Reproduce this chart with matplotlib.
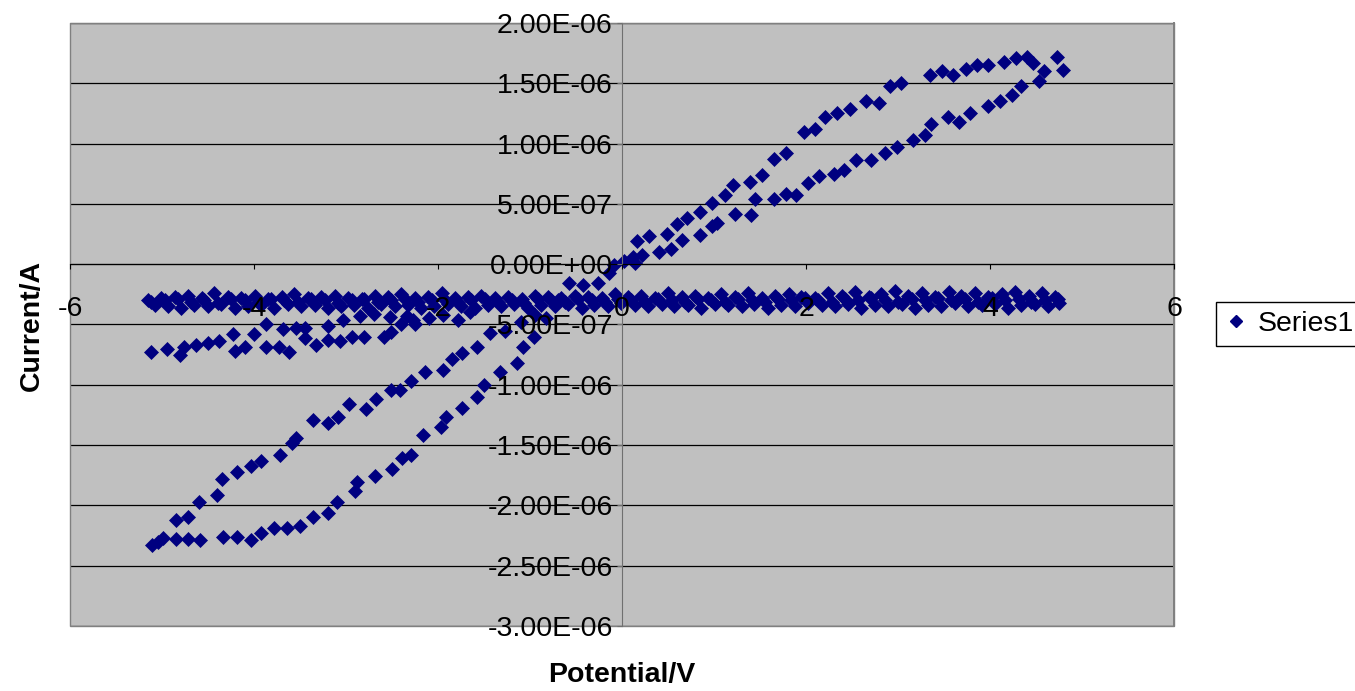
import numpy as np
import matplotlib
matplotlib.use("Agg")
import matplotlib.pyplot as plt
from matplotlib.ticker import FuncFormatter
from matplotlib.lines import Line2D
from matplotlib.patches import Rectangle

plt.rcParams['font.family'] = ['Liberation Sans', 'DejaVu Sans']

# current values are in microamps, potential in volts

# flat band, first pass (upper row)
band_up_v = [-5.15, -5.01, -4.86, -4.72, -4.57, -4.43, -4.28, -4.14, -3.99, -3.85,
             -3.70, -3.56, -3.41, -3.27, -3.12, -2.98, -2.83, -2.69, -2.54, -2.40,
             -2.25, -2.11, -1.96, -1.82, -1.67, -1.53, -1.38, -1.24, -1.09, -0.95,
             -0.80, -0.66, -0.51, -0.37, -0.22, -0.08, 0.07, 0.21, 0.36, 0.50,
             0.65, 0.79, 0.94, 1.08, 1.23, 1.37, 1.52, 1.66, 1.81, 1.95,
             2.10, 2.24, 2.39, 2.53, 2.68, 2.82, 2.97, 3.11, 3.26, 3.40,
             3.55, 3.69, 3.84, 3.98, 4.13, 4.27, 4.42, 4.56, 4.71]
band_up_i = [-0.30, -0.28, -0.27, -0.26, -0.28, -0.24, -0.27, -0.28, -0.26, -0.29,
             -0.27, -0.25, -0.28, -0.27, -0.26, -0.28, -0.29, -0.26, -0.27, -0.25,
             -0.28, -0.27, -0.24, -0.28, -0.27, -0.26, -0.28, -0.27, -0.29, -0.26,
             -0.27, -0.28, -0.26, -0.27, -0.28, -0.25, -0.27, -0.26, -0.28, -0.24,
             -0.27, -0.26, -0.28, -0.25, -0.27, -0.24, -0.28, -0.26, -0.25, -0.27,
             -0.28, -0.24, -0.26, -0.23, -0.27, -0.25, -0.22, -0.26, -0.24, -0.27,
             -0.23, -0.26, -0.24, -0.27, -0.25, -0.23, -0.26, -0.24, -0.27]

# flat band, middle pass
band_mid_v = [-5.12, -4.97, -4.83, -4.68, -4.54, -4.39, -4.25, -4.10, -3.96, -3.81,
              -3.67, -3.52, -3.38, -3.23, -3.09, -2.94, -2.80, -2.65, -2.51, -2.36,
              -2.22, -2.07, -1.93, -1.78, -1.64, -1.49, -1.35, -1.20, -1.06, -0.91,
              -0.77, -0.62, -0.48, -0.33, -0.19, -0.04, 0.10, 0.25, 0.39, 0.54,
              0.68, 0.83, 0.97, 1.12, 1.26, 1.41, 1.55, 1.70, 1.84, 1.99,
              2.13, 2.28, 2.42, 2.57, 2.71, 2.86, 3.00, 3.15, 3.29, 3.44,
              3.58, 3.73, 3.87, 4.02, 4.16, 4.31, 4.45, 4.60, 4.74]
band_mid_i = [-0.31, -0.30, -0.29, -0.31, -0.30, -0.32, -0.29, -0.30, -0.31, -0.29,
              -0.30, -0.31, -0.29, -0.30, -0.32, -0.30, -0.29, -0.31, -0.30, -0.29,
              -0.31, -0.30, -0.29, -0.31, -0.30, -0.29, -0.31, -0.30, -0.32, -0.29,
              -0.30, -0.31, -0.29, -0.30, -0.31, -0.29, -0.30, -0.31, -0.29, -0.30,
              -0.31, -0.29, -0.30, -0.31, -0.29, -0.30, -0.31, -0.29, -0.30, -0.28,
              -0.30, -0.31, -0.29, -0.30, -0.28, -0.30, -0.31, -0.29, -0.30, -0.28,
              -0.30, -0.29, -0.31, -0.28, -0.30, -0.29, -0.31, -0.30, -0.29]

# flat band, second pass (lower row)
band_dn_v = [4.75, 4.63, 4.49, 4.34, 4.20, 4.05, 3.91, 3.76, 3.62, 3.47,
             3.33, 3.18, 3.04, 2.89, 2.75, 2.60, 2.46, 2.31, 2.17, 2.02,
             1.88, 1.73, 1.59, 1.44, 1.30, 1.15, 1.01, 0.86, 0.72, 0.57,
             0.43, 0.28, 0.14, -0.01, -0.15, -0.30, -0.44, -0.59, -0.73, -0.88,
             -1.02, -1.17, -1.31, -1.46, -1.60, -1.75, -1.89, -2.04, -2.18, -2.33,
             -2.47, -2.62, -2.76, -2.91, -3.05, -3.20, -3.34, -3.49, -3.63, -3.78,
             -3.92, -4.07, -4.21, -4.36, -4.50, -4.65, -4.79, -4.94, -5.08]
band_dn_i = [-0.32, -0.35, -0.33, -0.34, -0.36, -0.33, -0.34, -0.35, -0.32, -0.35,
             -0.34, -0.36, -0.33, -0.35, -0.34, -0.36, -0.33, -0.35, -0.34, -0.32,
             -0.35, -0.34, -0.36, -0.33, -0.35, -0.34, -0.33, -0.36, -0.34, -0.35,
             -0.33, -0.35, -0.34, -0.32, -0.35, -0.34, -0.36, -0.33, -0.35, -0.34,
             -0.36, -0.33, -0.35, -0.34, -0.36, -0.35, -0.33, -0.35, -0.36, -0.34,
             -0.35, -0.33, -0.36, -0.34, -0.35, -0.36, -0.34, -0.35, -0.33, -0.36,
             -0.34, -0.35, -0.36, -0.33, -0.35, -0.34, -0.36, -0.35, -0.34]

# small loop under the band on the negative side
small_loop = [(-5.12, -0.73), (-4.95, -0.70), (-4.80, -0.75), (-4.76, -0.69), (-4.63, -0.67),
              (-4.50, -0.65), (-4.38, -0.64), (-4.23, -0.58), (-4.21, -0.72), (-4.10, -0.69),
              (-4.00, -0.58), (-3.87, -0.50), (-3.87, -0.69), (-3.73, -0.69), (-3.62, -0.73),
              (-3.68, -0.54), (-3.54, -0.53), (-3.45, -0.53), (-3.45, -0.61), (-3.33, -0.67),
              (-3.20, -0.63), (-3.20, -0.51), (-3.07, -0.64), (-2.93, -0.60), (-2.80, -0.60),
              (-2.59, -0.60), (-2.51, -0.56), (-2.40, -0.50), (-2.25, -0.50), (-2.34, -0.43),
              (-2.52, -0.44), (-2.27, -0.46), (-2.10, -0.45), (-1.95, -0.42), (-1.78, -0.46),
              (-1.65, -0.40), (-3.03, -0.46), (-2.85, -0.43), (-2.70, -0.41)]

# big hysteresis loop, positive side
right_up = [(0.02, 0.03), (0.12, 0.06), (0.16, 0.19), (0.29, 0.23), (0.49, 0.25),
            (0.60, 0.33), (0.71, 0.38), (0.85, 0.43), (0.98, 0.51), (1.12, 0.57),
            (1.21, 0.66), (1.39, 0.68), (1.52, 0.74), (1.65, 0.87), (1.78, 0.92),
            (1.98, 1.10), (2.10, 1.12), (2.21, 1.22), (2.34, 1.25), (2.48, 1.29),
            (2.65, 1.35), (2.79, 1.34), (2.91, 1.48), (3.03, 1.50), (3.35, 1.57),
            (3.48, 1.60), (3.60, 1.57), (3.74, 1.62), (3.86, 1.65), (3.98, 1.65),
            (4.15, 1.68), (4.28, 1.71), (4.40, 1.72), (4.47, 1.67), (4.73, 1.72),
            (4.79, 1.61)]
right_dn = [(4.59, 1.60), (4.53, 1.52), (4.34, 1.48), (4.24, 1.40), (4.11, 1.35),
            (3.98, 1.31), (3.78, 1.25), (3.66, 1.18), (3.54, 1.22), (3.36, 1.16),
            (3.29, 1.07), (3.16, 1.03), (2.99, 0.97), (2.86, 0.92), (2.71, 0.86),
            (2.54, 0.86), (2.41, 0.78), (2.30, 0.75), (2.14, 0.73), (2.02, 0.67),
            (1.89, 0.57), (1.78, 0.58), (1.65, 0.54), (1.45, 0.54), (1.40, 0.41),
            (1.23, 0.42), (1.03, 0.34), (0.98, 0.32), (0.85, 0.24), (0.65, 0.20),
            (0.53, 0.13), (0.40, 0.10), (0.22, 0.08), (0.14, 0.01), (-0.09, -0.01),
            (-0.14, -0.07)]

# big hysteresis loop, negative side
left_dn = [(-0.26, -0.16), (-0.42, -0.17), (-0.58, -0.16), (-0.70, -0.30), (-0.83, -0.45),
           (-0.96, -0.60), (-1.08, -0.69), (-1.14, -0.82), (-1.33, -0.89), (-1.50, -1.00),
           (-1.58, -1.10), (-1.74, -1.19), (-1.91, -1.27), (-1.97, -1.35), (-2.16, -1.42),
           (-2.29, -1.58), (-2.39, -1.61), (-2.50, -1.70), (-2.68, -1.76), (-2.88, -1.81),
           (-2.90, -1.88), (-3.10, -1.97), (-3.20, -2.06), (-3.36, -2.10), (-3.50, -2.17),
           (-3.64, -2.19), (-3.78, -2.19), (-3.92, -2.23), (-4.03, -2.29), (-4.18, -2.26),
           (-4.34, -2.26), (-4.59, -2.29), (-4.72, -2.28), (-4.85, -2.28), (-4.99, -2.27),
           (-5.04, -2.30), (-5.11, -2.33)]
left_up = [(-4.85, -2.12), (-4.72, -2.10), (-4.60, -1.97), (-4.40, -1.91), (-4.35, -1.78),
           (-4.18, -1.72), (-4.03, -1.67), (-3.92, -1.63), (-3.72, -1.58), (-3.59, -1.48),
           (-3.54, -1.44), (-3.36, -1.29), (-3.20, -1.32), (-3.09, -1.27), (-2.97, -1.16),
           (-2.78, -1.20), (-2.67, -1.12), (-2.51, -1.04), (-2.41, -1.04), (-2.29, -0.97),
           (-2.14, -0.89), (-1.95, -0.88), (-1.85, -0.79), (-1.74, -0.74), (-1.58, -0.69),
           (-1.44, -0.57), (-1.27, -0.55), (-1.10, -0.48), (-0.95, -0.42)]

x_ticks = [-6, -4, -2, 0, 2, 4, 6]
y_ticks = [-3.0e-6, -2.5e-6, -2.0e-6, -1.5e-6, -1.0e-6, -5.0e-7, 0.0, 5.0e-7, 1.0e-6, 1.5e-6, 2.0e-6]

NAVY = '#000080'


def main():
  W, H = 1355, 691
  fig = plt.figure(figsize=(W / 100, H / 100), dpi=100)
  ax = fig.add_axes([70 / W, 1 - 626 / H, 1104 / W, 603 / H])
  ax.set_facecolor('#c0c0c0')

  # collect every point of the single series
  v = list(band_up_v) + list(band_mid_v) + list(band_dn_v)
  i = list(band_up_i) + list(band_mid_i) + list(band_dn_i)
  for part in [small_loop, right_up, right_dn, left_dn, left_up]:
    pv, pi = zip(*part)
    v += list(pv)
    i += list(pi)
  v = np.array(v)
  i = np.array(i) * 1e-6

  for yv in y_ticks:
    ax.axhline(yv, color='black', lw=0.9, zorder=1)

  ax.plot(v, i, ls='none', marker='D', ms=7.3, mfc=NAVY, mec=NAVY, mew=0.5, zorder=2)

  ax.set_xlim(-6, 6)
  ax.set_ylim(-3e-6, 2e-6)
  ax.set_axisbelow(False)

  ax.spines['left'].set_position(('data', 0))
  ax.spines['bottom'].set_position(('data', 0))
  ax.spines['left'].set_color('#707070')
  ax.spines['bottom'].set_color('black')
  ax.spines['top'].set_color('#808080')
  ax.spines['right'].set_color('#808080')
  ax.spines['right'].set_linewidth(1.4)
  ax.add_patch(Rectangle((0, 0), 1, 1, transform=ax.transAxes, fill=False,
                         ec='#808080', lw=1, clip_on=False, zorder=1.5))

  ax.set_xticks(x_ticks)
  ax.set_yticks(y_ticks)
  ax.xaxis.set_major_formatter(FuncFormatter(lambda x, p: f"{x:g}"))
  ax.yaxis.set_major_formatter(FuncFormatter(lambda y, p: f"{y:.2E}"))
  ax.tick_params(axis='x', direction='out', length=3.6, width=0.8, color='black',
                 labelsize=20.5, pad=19.5)
  ax.tick_params(axis='y', direction='out', length=3.6, width=0.8, color='#707070',
                 labelsize=20.5, pad=3)

  fig.text(32 / W, 1 - 325 / H, 'Current/A', rotation=90, ha='center', va='center',
           fontsize=20.5, fontweight='bold')
  fig.text(622 / W, 1 - 675 / H, 'Potential/V', ha='center', va='center',
           fontsize=20.5, fontweight='bold')

  handle = Line2D([], [], ls='none', marker='D', ms=6.3, mfc=NAVY, mec=NAVY)
  leg = fig.legend(handles=[handle], labels=['Series1'], loc='center left',
                   bbox_to_anchor=(1216 / W, 1 - 324 / H), frameon=True, fancybox=False,
                   edgecolor='black', framealpha=1, borderaxespad=0, fontsize=20.5,
                   handlelength=0.8, handletextpad=0.35, borderpad=0.3)
  leg.get_frame().set_linewidth(1)

  fig.savefig('out.png', dpi=100)


if __name__ == "__main__":
  main()
